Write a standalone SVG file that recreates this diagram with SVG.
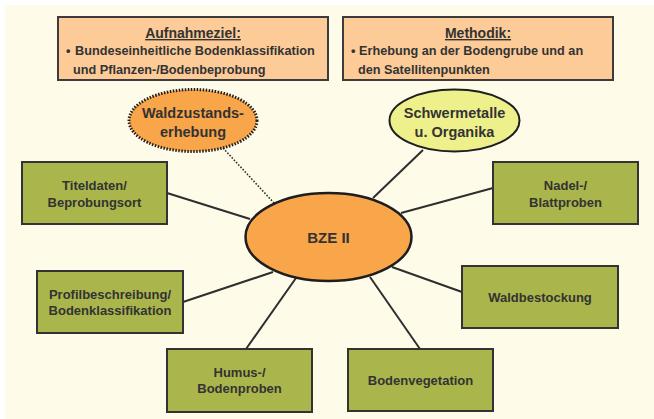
<svg xmlns="http://www.w3.org/2000/svg" width="654" height="419" viewBox="0 0 654 419">
<style>
  text { font-family: "Liberation Sans", Arial, sans-serif; font-weight: bold; fill: #333333; }
  .t { font-size: 13px; text-anchor: middle; }
  .e { font-size: 14.5px; text-anchor: middle; }
  .h { font-size: 14px; text-anchor: middle; text-decoration: underline; }
  .b { font-size: 12.7px; }
  .info { fill: #FDCB98; stroke: #3c3c3c; stroke-width: 2; }
  .box { fill: #AAB64B; stroke: #333333; stroke-width: 2; }
  .con { stroke: #2e2e2e; stroke-width: 2; fill: none; }
  .dot { stroke: #2e2e2e; stroke-width: 1.6; stroke-dasharray: 1.6 1.6; fill: none; }
</style>
<rect x="0" y="0" width="654" height="419" fill="#ffffff"/>
<rect x="5" y="5" width="649" height="414" fill="#FEFCE9"/>

<g id="aufnahmeziel">
  <rect class="info" x="58" y="17" width="270" height="63"/>
  <text class="h" x="193" y="38">Aufnahmeziel:</text>
  <text class="b" x="66" y="55">•</text>
  <text class="b" x="75" y="55">Bundeseinheitliche Bodenklassifikation</text>
  <text class="b" x="73" y="74">und Pflanzen-/Bodenbeprobung</text>
</g>
<g id="methodik">
  <rect class="info" x="343" y="17" width="270" height="63"/>
  <text class="h" x="478" y="38">Methodik:</text>
  <text class="b" x="351" y="55">•</text>
  <text class="b" x="359" y="55">Erhebung an der Bodengrube und an</text>
  <text class="b" x="358" y="74">den Satellitenpunkten</text>
</g>

<g id="connectors">
  <line class="dot" x1="223" y1="148" x2="274" y2="203"/>
  <line class="con" x1="423" y1="150" x2="373" y2="198"/>
  <line class="con" x1="167" y1="193" x2="250" y2="219"/>
  <line class="con" x1="183" y1="302" x2="273" y2="272"/>
  <line class="con" x1="246" y1="349" x2="296" y2="278"/>
  <line class="con" x1="493" y1="188" x2="401" y2="213"/>
  <line class="con" x1="462" y1="292" x2="392" y2="267"/>
  <line class="con" x1="420" y1="349" x2="370" y2="277"/>
</g>

<g id="waldzustand">
  <ellipse cx="193" cy="120.5" rx="64" ry="31" fill="#F9A54A" stroke="#1e1e1e" stroke-width="3" stroke-dasharray="1.5 1.5"/>
  <text class="e" x="193" y="118">Waldzustands-</text>
  <text class="e" x="193" y="137">erhebung</text>
</g>
<g id="schwermetalle">
  <ellipse cx="454.5" cy="120.5" rx="65" ry="31" fill="#EEF08C" stroke="#1e1e1e" stroke-width="2"/>
  <text class="e" x="454.5" y="118">Schwermetalle</text>
  <text class="e" x="454.5" y="137">u. Organika</text>
</g>
<g id="bze">
  <ellipse cx="328.5" cy="237" rx="83" ry="44" fill="#F9A54A" stroke="#1e1e1e" stroke-width="2.5"/>
  <text x="328.5" y="243" style="font-size:15px;text-anchor:middle">BZE II</text>
</g>

<g id="titeldaten">
  <rect class="box" x="22" y="162" width="145" height="62"/>
  <text class="t" x="94.5" y="190">Titeldaten/</text>
  <text class="t" x="94.5" y="206.5">Beprobungsort</text>
</g>
<g id="profil">
  <rect class="box" x="37" y="271" width="146" height="62"/>
  <text class="t" x="110" y="299">Profilbeschreibung/</text>
  <text class="t" x="110" y="315">Bodenklassifikation</text>
</g>
<g id="humus">
  <rect class="box" x="167" y="349" width="145" height="63"/>
  <text class="t" x="239.5" y="376.5">Humus-/</text>
  <text class="t" x="239.5" y="392.5">Bodenproben</text>
</g>
<g id="nadel">
  <rect class="box" x="493" y="162" width="145" height="62"/>
  <text class="t" x="565.5" y="190">Nadel-/</text>
  <text class="t" x="565.5" y="206.5">Blattproben</text>
</g>
<g id="waldbestockung">
  <rect class="box" x="462" y="266" width="156" height="62"/>
  <text class="t" x="540" y="301.5">Waldbestockung</text>
</g>
<g id="bodenvegetation">
  <rect class="box" x="348" y="349" width="145" height="62"/>
  <text class="t" x="420.5" y="384.5">Bodenvegetation</text>
</g>
</svg>
